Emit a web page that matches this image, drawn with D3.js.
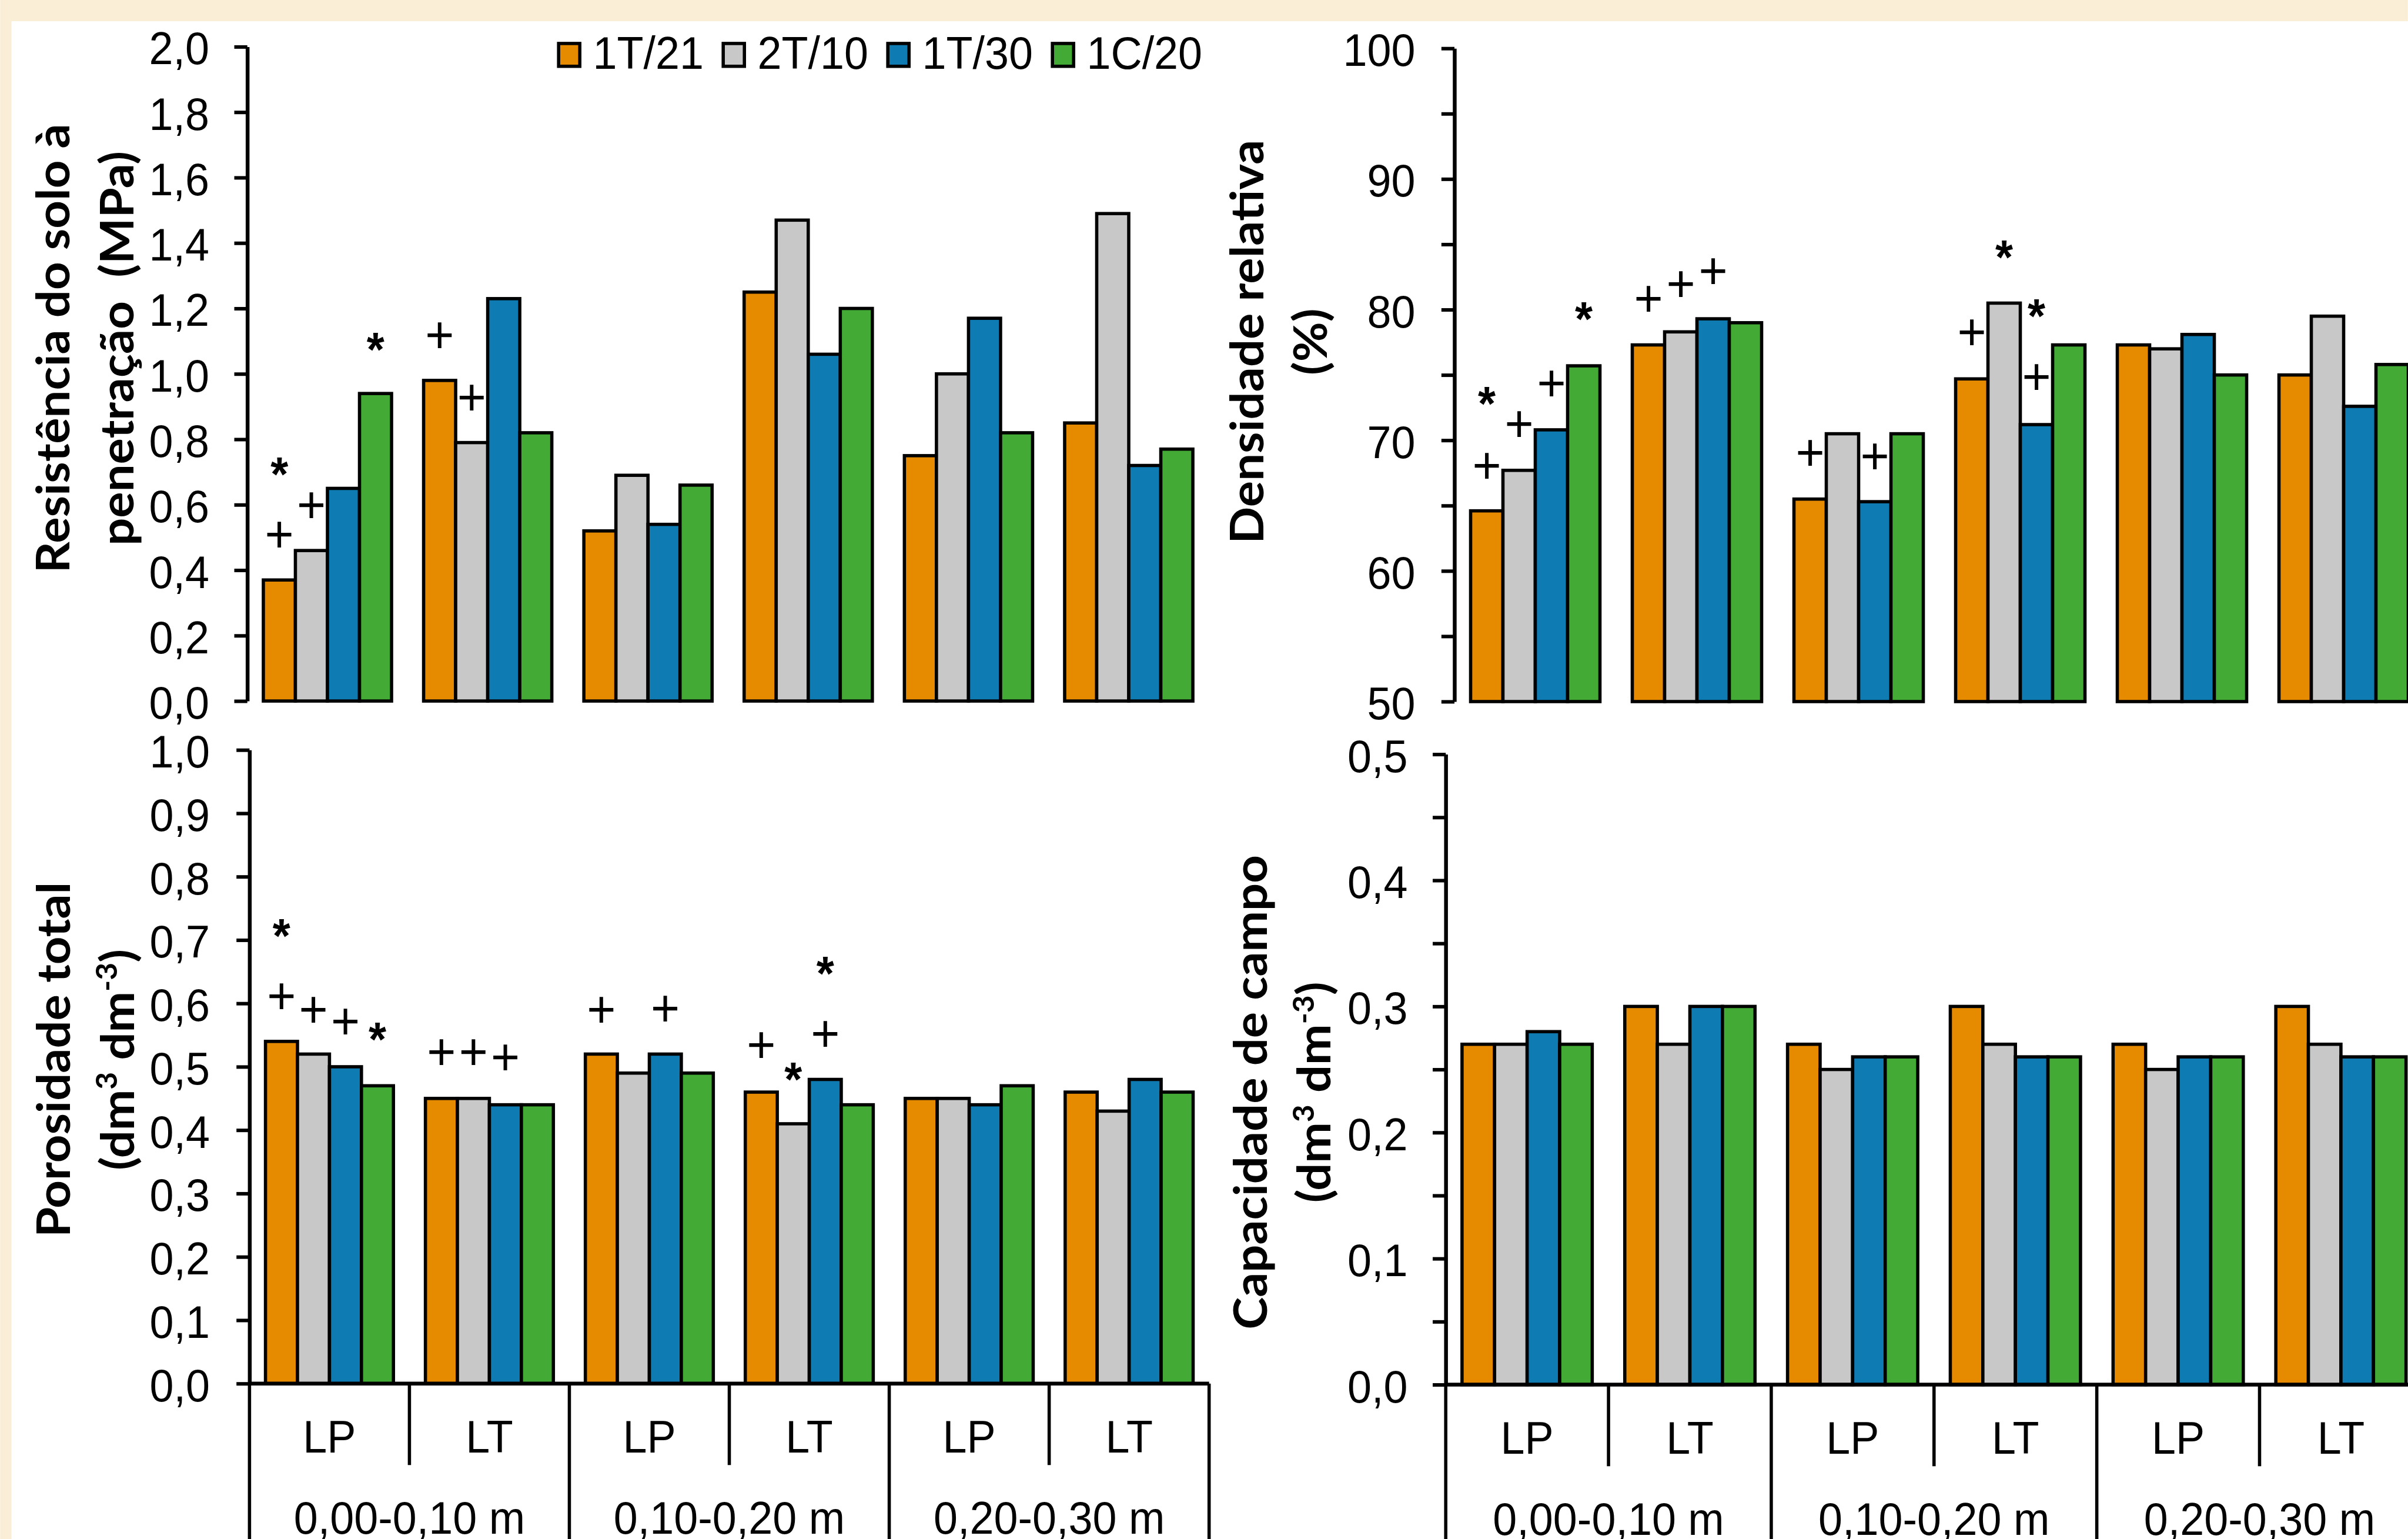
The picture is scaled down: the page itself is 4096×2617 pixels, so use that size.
<!DOCTYPE html>
<html>
<head>
<meta charset="utf-8">
<script src="https://d3js.org/d3.v7.min.js"></script>
<style>
  body { margin: 0; background: #fff; overflow: hidden; }
  text { font-family: "Liberation Sans", Arial, sans-serif; fill: #000; }
  .title { font-family: Lato, "Open Sans", sans-serif; font-weight: 700; white-space: pre; }
</style>
</head>
<body>
<script>
// ---- data ----
var seriesNames = ["1T/21", "2T/10", "1T/30", "1C/20"];
var seriesColors = ["#e68a00", "#c8c8c8", "#0f7bb3", "#42aa35"];
var sites = ["LP", "LT", "LP", "LT", "LP", "LT"];
var depths = ["0,00-0,10 m", "0,10-0,20 m", "0,20-0,30 m"];

// one row per site/depth group, one value per series
var resistencia = [
  [0.37, 0.46, 0.65, 0.94],
  [0.98, 0.79, 1.23, 0.82],
  [0.52, 0.69, 0.54, 0.66],
  [1.25, 1.47, 1.06, 1.20],
  [0.75, 1.00, 1.17, 0.82],
  [0.85, 1.49, 0.72, 0.77]];
var densidade = [
  [64.6, 67.7, 70.8, 75.7],
  [77.3, 78.3, 79.3, 79.0],
  [65.5, 70.5, 65.3, 70.5],
  [74.7, 80.5, 71.2, 77.3],
  [77.3, 77.0, 78.1, 75.0],
  [75.0, 79.5, 72.6, 75.8]];
var porosidade = [
  [0.54, 0.52, 0.50, 0.47],
  [0.45, 0.45, 0.44, 0.44],
  [0.52, 0.49, 0.52, 0.49],
  [0.46, 0.41, 0.48, 0.44],
  [0.45, 0.45, 0.44, 0.47],
  [0.46, 0.43, 0.48, 0.46]];
var capacidade = [
  [0.27, 0.27, 0.28, 0.27],
  [0.30, 0.27, 0.30, 0.30],
  [0.27, 0.25, 0.26, 0.26],
  [0.30, 0.27, 0.26, 0.26],
  [0.27, 0.25, 0.26, 0.26],
  [0.30, 0.27, 0.26, 0.26]];

// significance marks: [group, series, symbol, level on the value axis]
var marksResist = [[0,0,"+",0.51],[0,0,"*",0.73],[0,1,"+",0.60],[0,3,"*",1.11],
  [1,0,"+",1.12],[1,1,"+",0.93]];
var marksDens = [[0,0,"+",68.1],[0,0,"*",73.7],[0,1,"+",71.3],[0,2,"+",74.4],[0,3,"*",80.2],
  [1,0,"+",80.9],[1,1,"+",82.0],[1,2,"+",83.0],
  [2,0,"+",69.1],[2,2,"+",68.8],
  [3,0,"+",78.3],[3,1,"*",84.9],[3,2,"*",80.4],[3,2,"+",74.9]];
var marksPoros = [[0,0,"*",0.725],[0,0,"+",0.612],[0,1,"+",0.591],[0,2,"+",0.572],[0,3,"*",0.562],
  [1,0,"+",0.524],[1,1,"+",0.524],[1,2,"+",0.516],
  [2,0,"+",0.591],[2,2,"+",0.593],
  [3,0,"+",0.535],[3,1,"*",0.499],[3,2,"*",0.666],[3,2,"+",0.553]];

// axis ticks and which of them carry a label
var ticksResist = [0, 0.2, 0.4, 0.6, 0.8, 1.0, 1.2, 1.4, 1.6, 1.8, 2.0];
var ticksDens = [50, 55, 60, 65, 70, 75, 80, 85, 90, 95, 100];
var labelsDens = [50, 60, 70, 80, 90, 100];
var ticksPoros = [0, 0.1, 0.2, 0.3, 0.4, 0.5, 0.6, 0.7, 0.8, 0.9, 1.0];
var ticksCap = [0, 0.05, 0.1, 0.15, 0.2, 0.25, 0.3, 0.35, 0.4, 0.45, 0.5];
var labelsCap = [0, 0.1, 0.2, 0.3, 0.4, 0.5];

// ---- drawing (coordinates in reference pixels, scaled by the viewBox) ----
var W = 4432, H = 2832;
var SX = 0.95; // the source picture is slightly squeezed horizontally

var svg = d3.select("body").append("svg")
  .attr("width", 4096).attr("height", 2617)
  .attr("viewBox", "0 0 " + W + " " + H);

svg.append("rect").attr("width", W).attr("height", H).attr("fill", "#faeed6");
svg.append("rect").attr("x", 21).attr("y", 39).attr("width", W).attr("height", H).attr("fill", "#fff");

var comma1 = function(d) { return d3.format(".1f")(d).replace(".", ","); };
var plain = function(d) { return String(d); };

// fit the bold title font to the reference line length
var probe = svg.append("text").attr("class", "title").style("font-size", "100px").text("Resistência do solo à");
var titleSize = 100 * 827 / probe.node().getComputedTextLength();
probe.remove();

function hasLabel(list, d) {
  return list.some(function(v) { return Math.abs(v - d) < 1e-9; });
}

function chart(c) {
  var g = svg.append("g");
  var y = d3.scaleLinear().domain(c.domain).range([c.yBot, c.yTop]);
  var x = d3.scaleBand().domain(d3.range(c.values.length))
    .range([c.x0, c.x0 + c.values.length * c.catW])
    .paddingInner(0.2).paddingOuter(0.1);
  var xs = d3.scaleBand().domain(d3.range(seriesNames.length)).range([0, x.bandwidth()]);

  // bars
  g.append("g").selectAll("g").data(c.values).join("g")
    .attr("transform", function(d, i) { return "translate(" + x(i) + ",0)"; })
    .selectAll("rect").data(function(d) { return d; }).join("rect")
    .attr("x", function(d, j) { return xs(j); })
    .attr("width", xs.bandwidth())
    .attr("y", function(d) { return y(d); })
    .attr("height", function(d) { return c.yBot - y(d); })
    .attr("fill", function(d, j) { return seriesColors[j]; })
    .attr("stroke", "#000").attr("stroke-width", 6);

  // value axis
  var ax = d3.axisLeft(y).tickValues(c.ticks).tickSize(24).tickSizeOuter(0)
    .tickFormat(function(d) { return hasLabel(c.labels, d) ? c.fmt(d) : ""; });
  var ga = g.append("g").attr("transform", "translate(" + c.x0 + ",0)").call(ax);
  ga.select(".domain").attr("stroke-width", 7);
  ga.selectAll(".tick line").attr("stroke-width", 6.5);
  ga.selectAll(".tick text")
    .attr("x", -c.labelGap / SX).attr("dy", "0.38em")
    .attr("transform", "scale(" + SX + ",1)")
    .style("font-size", "84px");

  // category table under the bottom charts
  if (c.table) {
    var xEnd = c.x0 + c.values.length * c.catW;
    g.append("line").attr("x1", c.x0).attr("x2", xEnd)
      .attr("y1", c.yBot).attr("y2", c.yBot)
      .attr("stroke", "#000").attr("stroke-width", 7);
    g.append("g").selectAll("line").data(d3.range(c.values.length + 1)).join("line")
      .attr("x1", function(k) { return c.x0 + k * c.catW; })
      .attr("x2", function(k) { return c.x0 + k * c.catW; })
      .attr("y1", c.yBot)
      .attr("y2", function(k) { return k % 2 === 0 ? H : c.yBot + 150; })
      .attr("stroke", "#000").attr("stroke-width", 6);
    g.append("g").selectAll("text").data(sites).join("text")
      .attr("transform", function(d, i) {
        return "translate(" + (x(i) + x.bandwidth() / 2) + "," + (c.yBot + 127) + ") scale(" + SX + ",1)";
      })
      .attr("text-anchor", "middle").style("font-size", "84px")
      .text(function(d) { return d; });
    g.append("g").selectAll("text").data(depths).join("text")
      .attr("transform", function(d, k) {
        return "translate(" + (c.x0 + (2 * k + 1) * c.catW) + "," + (c.yBot + 276) + ") scale(" + SX + ",1)";
      })
      .attr("text-anchor", "middle").style("font-size", "84px")
      .text(function(d) { return d; });
  }

  // significance marks
  g.append("g").selectAll("text").data(c.marks).join("text")
    .attr("transform", function(m) {
      var cx = x(m[0]) + xs(m[1]) + xs.bandwidth() / 2;
      var cy = y(m[3]) + (m[2] === "+" ? 0.35 * 96 : 0.585 * 88);
      return "translate(" + cx + "," + cy + ") scale(" + SX + ",1)";
    })
    .attr("text-anchor", "middle")
    .style("font-size", function(m) { return m[2] === "+" ? "96px" : "88px"; })
    .style("font-weight", function(m) { return m[2] === "*" ? "bold" : "normal"; })
    .text(function(m) { return m[2]; });

  // axis title, two rotated lines; pieces in [] are superscripts
  c.title.forEach(function(line, i) {
    var t = g.append("text").attr("class", "title")
      .attr("transform", "translate(" + c.titleX[i] + "," + c.titleY + ") rotate(-90) scale(1," + SX + ")")
      .attr("text-anchor", "middle")
      .style("font-size", titleSize + "px");
    var shift = 0;
    line.forEach(function(p) {
      var sup = Array.isArray(p);
      var s = t.append("tspan").text(sup ? p[0] : p);
      var target = sup ? -0.36 * titleSize : 0;
      if (target !== shift) { s.attr("dy", target - shift); shift = target; }
      if (sup) s.style("font-size", (0.62 * titleSize) + "px");
    });
  });
}

chart({ values: resistencia, marks: marksResist, domain: [0, 2],
  ticks: ticksResist, labels: ticksResist, fmt: comma1,
  x0: 455, yTop: 86, yBot: 1290, catW: 295, labelGap: 70,
  title: [["Resistência do solo à"], ["penetração  (MPa)"]],
  titleX: [127, 245], titleY: 641 });

chart({ values: densidade, marks: marksDens, domain: [50, 100],
  ticks: ticksDens, labels: labelsDens, fmt: plain,
  x0: 2677, yTop: 89, yBot: 1291, catW: 297.6, labelGap: 72,
  title: [["Densidade relativa"], ["(%)"]],
  titleX: [2325, 2442], titleY: 629 });

chart({ values: porosidade, marks: marksPoros, domain: [0, 1],
  ticks: ticksPoros, labels: ticksPoros, fmt: comma1, table: true,
  x0: 459, yTop: 1380, yBot: 2546, catW: 294.4, labelGap: 73,
  title: [["Porosidade total"], ["(dm", ["3"], " dm", ["-3"], ")"]],
  titleX: [128, 246], titleY: 1950 });

chart({ values: capacidade, marks: [], domain: [0, 0.5],
  ticks: ticksCap, labels: labelsCap, fmt: comma1, table: true,
  x0: 2661, yTop: 1388, yBot: 2548, catW: 299.6, labelGap: 70,
  title: [["Capacidade de campo"], ["(dm", ["3"], " dm", ["-3"], ")"]],
  titleX: [2332, 2449], titleY: 2010 });

// legend
var lg = svg.append("g");
seriesNames.forEach(function(n, i) {
  var lx = 1025 + i * 303;
  lg.append("rect").attr("x", lx + 3).attr("y", 80).attr("width", 39).attr("height", 42)
    .attr("fill", seriesColors[i]).attr("stroke", "#000").attr("stroke-width", 6);
  lg.append("text")
    .attr("transform", "translate(" + (lx + 66) + ",127) scale(" + SX + ",1)")
    .style("font-size", "84px").text(n);
});
</script>
</body>
</html>
